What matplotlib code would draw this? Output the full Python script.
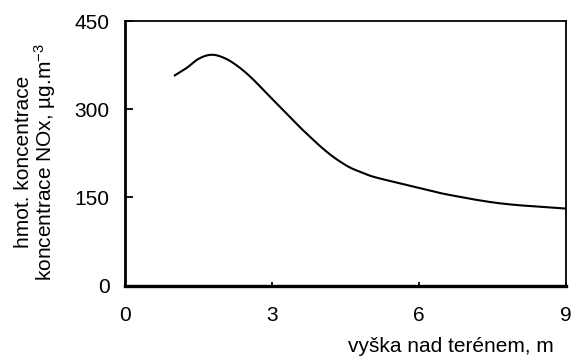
import matplotlib
matplotlib.use("Agg")
import matplotlib.pyplot as plt
import numpy as np

plt.rcParams['font.family'] = ['Liberation Sans', 'DejaVu Sans']
plt.rcParams['mathtext.fontset'] = 'custom'
plt.rcParams['mathtext.rm'] = 'Liberation Sans'
plt.rcParams['mathtext.it'] = 'Liberation Sans:italic'

# height above terrain (m) and NOx mass concentration (µg/m³)
height = [1.0, 1.25, 1.5, 1.77, 2.04, 2.31, 2.59, 2.86, 3.2, 3.57, 3.78,
          3.98, 4.18, 4.39, 4.59, 4.8, 5.0, 5.2, 5.41, 5.61, 6.0, 6.4,
          6.8, 7.2, 7.6, 8.0, 8.5, 9.0]
conc = [357, 370, 386, 393, 387, 373, 353, 330, 301, 269.5, 253,
        237.5, 223.5, 211, 201, 193.5, 187, 182.3, 178, 174, 166, 158,
        151.5, 145.5, 140.5, 137, 134, 131]

x_ticks = [0, 3, 6, 9]
y_ticks = [0, 150, 300, 450]


def hermite(x, y, xn):
    """Cubic Hermite curve through (x, y) using finite-difference slopes."""
    x = np.asarray(x, float)
    y = np.asarray(y, float)
    m = np.gradient(y, x)
    k = np.clip(np.searchsorted(x, xn, side='right') - 1, 0, len(x) - 2)
    h = x[k + 1] - x[k]
    t = (xn - x[k]) / h
    h00 = 2 * t**3 - 3 * t**2 + 1
    h10 = t**3 - 2 * t**2 + t
    h01 = -2 * t**3 + 3 * t**2
    h11 = t**3 - t**2
    return h00 * y[k] + h10 * h * m[k] + h01 * y[k + 1] + h11 * h * m[k + 1]


fig = plt.figure(figsize=(5.73, 3.56), dpi=100)
ax = fig.add_axes([125 / 573, 1 - 285.5 / 356, 441 / 573, 264.2 / 356])

xs = np.linspace(height[0], height[-1], 400)
ax.plot(xs, hermite(height, conc, xs), color='black', lw=1.5,
        solid_capstyle='butt')

ax.set_xlim(0, 9)
ax.set_ylim(0, 450)
ax.set_xticks(x_ticks)
ax.set_yticks(y_ticks)
ax.tick_params(axis='y', direction='in', length=6, width=1.3, pad=11,
               labelsize=15)
ax.tick_params(axis='x', direction='in', length=3, width=1.3, pad=15,
               labelsize=15)

ax.spines['bottom'].set_linewidth(2.4)
ax.spines['left'].set_linewidth(2.0)
ax.spines['top'].set_linewidth(1.3)
ax.spines['right'].set_linewidth(1.3)

fig.text(554 / 573, 1 - 346 / 356, 'vyška nad terénem, m', ha='right',
         va='center', fontsize=15)
fig.text(36 / 573, 1 - 162 / 356,
         'hmot. koncentrace\nkoncentrace NOx, µg.m$^{-3}$',
         ha='center', va='center', rotation=90, fontsize=15, linespacing=1.0)

fig.savefig('out.png', dpi=100)
